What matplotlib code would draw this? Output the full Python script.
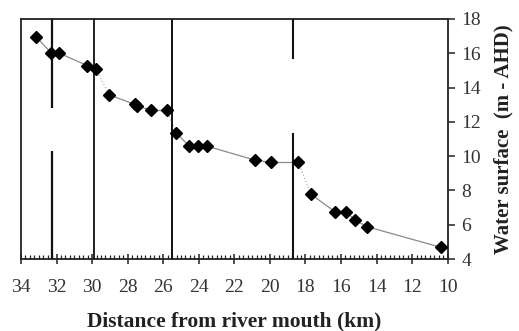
import matplotlib
matplotlib.use("Agg")
import matplotlib.pyplot as plt
from matplotlib.ticker import MultipleLocator

# Data
distance_km = [33.16, 32.31, 31.88, 30.27, 29.78, 29.03, 27.59, 27.49, 26.69, 25.80,
               25.28, 24.55, 24.06, 23.56, 20.84, 19.96, 18.40, 17.69, 16.34, 15.72,
               15.21, 14.52, 10.38]
water_surface = [16.97, 16.02, 16.02, 15.28, 15.07, 13.57, 13.02, 12.92, 12.69, 12.69,
                 11.37, 10.59, 10.59, 10.59, 9.77, 9.64, 9.64, 7.77, 6.76, 6.76,
                 6.27, 5.88, 4.68]
# segments drawn dotted (index of segment start)
dotted_segments = [4, 9, 16]

# vertical structure lines: (x, [(ymin, ymax), ...])
vline_x = [32.27, 29.88, 25.53, 18.72]
vline_spans = [[(12.8, 18), (4, 10.3)], [(4, 18)], [(4, 18)], [(15.67, 18), (4, 11.35)]]
vline_widths = [1.6, 1.3, 1.4, 1.5]

x_ticks = [34, 32, 30, 28, 26, 24, 22, 20, 18, 16, 14, 12, 10]
y_ticks = [4, 6, 8, 10, 12, 14, 16, 18]

plt.rcParams['font.family'] = ['Liberation Serif', 'DejaVu Serif']

fig = plt.figure(figsize=(5.19, 3.31), dpi=100)
ax = fig.add_axes([0.0405, 0.2175, 0.8221, 0.7251])

ax.set_xlim(34, 10)
ax.set_ylim(4, 18)

# connecting lines
for i in range(len(distance_km) - 1):
    if i in dotted_segments:
        ax.plot(distance_km[i:i + 2], water_surface[i:i + 2], color='#b5b5b5',
                lw=0.9, ls=':', zorder=2)
    else:
        ax.plot(distance_km[i:i + 2], water_surface[i:i + 2], color='#8a8a8a',
                lw=0.9, ls='-', zorder=2)

# vertical lines
for x, spans, w in zip(vline_x, vline_spans, vline_widths):
    for (y0, y1) in spans:
        ax.plot([x, x], [y0, y1], color='#111111', lw=w, zorder=3, solid_capstyle='butt')

ax.plot(distance_km, water_surface, ls='none', marker='D', ms=6,
        color='black', zorder=4)

# axes styling
for s in ax.spines.values():
    s.set_color('#222222')
    s.set_linewidth(1.3)

ax.yaxis.tick_right()
ax.yaxis.set_label_position('right')
ax.set_yticks(y_ticks)
ax.set_xticks(x_ticks)
ax.xaxis.set_minor_locator(MultipleLocator(0.25))
ax.tick_params(axis='x', which='major', direction='inout', length=7, width=1.1,
               labelsize=14, pad=11, colors='#222222')
ax.tick_params(axis='x', which='minor', direction='in', length=3, width=0.9,
               colors='#222222')
ax.tick_params(axis='y', which='major', direction='out', length=5, width=1.1,
               labelsize=14, pad=5, colors='#222222', left=False, right=True)
for lab in ax.get_xticklabels() + ax.get_yticklabels():
    lab.set_color('#333333')

ax.set_xlabel('Distance from river mouth (km)', fontsize=15.5, fontweight='bold',
              labelpad=11, color='#222222')
ax.set_ylabel('Water surface  (m - AHD)', fontsize=15, fontweight='bold',
              labelpad=9, color='#222222', rotation=90)

fig.savefig('out.png', dpi=100)
